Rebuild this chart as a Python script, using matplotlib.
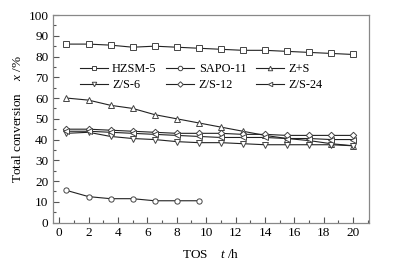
import matplotlib
matplotlib.use("Agg")
import matplotlib.pyplot as plt
from matplotlib.ticker import MultipleLocator

plt.rcParams['font.family'] = ['Liberation Serif', 'DejaVu Serif']
plt.rcParams['mathtext.fontset'] = 'custom'
plt.rcParams['mathtext.rm'] = 'Liberation Serif'
plt.rcParams['mathtext.it'] = 'Liberation Serif:italic'

tos = [0.5, 2, 3.5, 5, 6.5, 8, 9.5, 11, 12.5, 14, 15.5, 17, 18.5, 20]
hzsm5 = [86, 86, 85.5, 84.5, 85, 84.5, 84, 83.5, 83, 83, 82.5, 82, 81.5, 81]
sapo_tos = [0.5, 2, 3.5, 5, 6.5, 8, 9.5]
sapo11 = [15.5, 12.5, 11.5, 11.5, 10.5, 10.5, 10.5]
zs = [60, 59, 56.5, 55, 52, 50, 48, 46, 44, 42, 40.5, 39.5, 38, 37]
zs6 = [43, 43.5, 41.5, 40.5, 40, 39, 38.5, 38.5, 38, 37.5, 37.5, 37.5, 37.5, 37]
zs12 = [45, 45, 44.5, 44, 43.5, 43, 43, 43, 42.5, 42.5, 42, 42, 42, 42]
zs24 = [44, 44, 43.5, 43, 42.5, 42, 41.5, 41, 41, 41, 40.5, 40.5, 40, 40]

fig = plt.figure(figsize=(4.02, 2.64), dpi=100)
ax = fig.add_axes([0.131, 0.157, 0.786, 0.786])

style = dict(color='#222222', lw=0.8, ms=3.8, mfc='white', mec='#444444', mew=0.7)
h1, = ax.plot(tos, hzsm5, marker='s', label='HZSM-5', **style)
h2, = ax.plot(sapo_tos, sapo11, marker='o', label='SAPO-11', **style)
h3, = ax.plot(tos, zs, marker='^', label='Z+S', **style)
h4, = ax.plot(tos, zs6, marker='v', label='Z/S-6', **style)
h5, = ax.plot(tos, zs12, marker='D', label='Z/S-12', **dict(style, ms=3.3))
h6, = ax.plot(tos, zs24, marker='<', label='Z/S-24', **style)

ax.set_xlim(-0.44, 21.05)
ax.set_ylim(0, 100)
ax.xaxis.set_major_locator(MultipleLocator(2))
ax.xaxis.set_minor_locator(MultipleLocator(1))
ax.yaxis.set_major_locator(MultipleLocator(10))
ax.yaxis.set_minor_locator(MultipleLocator(5))
ax.tick_params(which='both', direction='in', top=False, right=False,
               color='#555555', labelsize=9.5, pad=3)
ax.tick_params(which='major', length=4, width=0.8)
ax.tick_params(which='minor', length=2, width=0.8)
for s in ax.spines.values():
    s.set_color('#888888')
    s.set_linewidth(0.9)

ax.set_xlabel(r'TOS    $\it{t}$ /h', fontsize=9.5, labelpad=7)
ax.set_ylabel(r'Total conversion    $\it{x}$ /%', fontsize=9.5, labelpad=3)

handles = [h1, h4, h2, h5, h3, h6]
ax.legend(handles, [h.get_label() for h in handles], ncol=3, loc='center',
          bbox_to_anchor=(0.47, 0.70), frameon=False, fontsize=8.8,
          handlelength=2.3, handletextpad=0.35, columnspacing=0.8,
          labelspacing=0.35, markerscale=0.85)

fig.savefig('out.png', dpi=100)
